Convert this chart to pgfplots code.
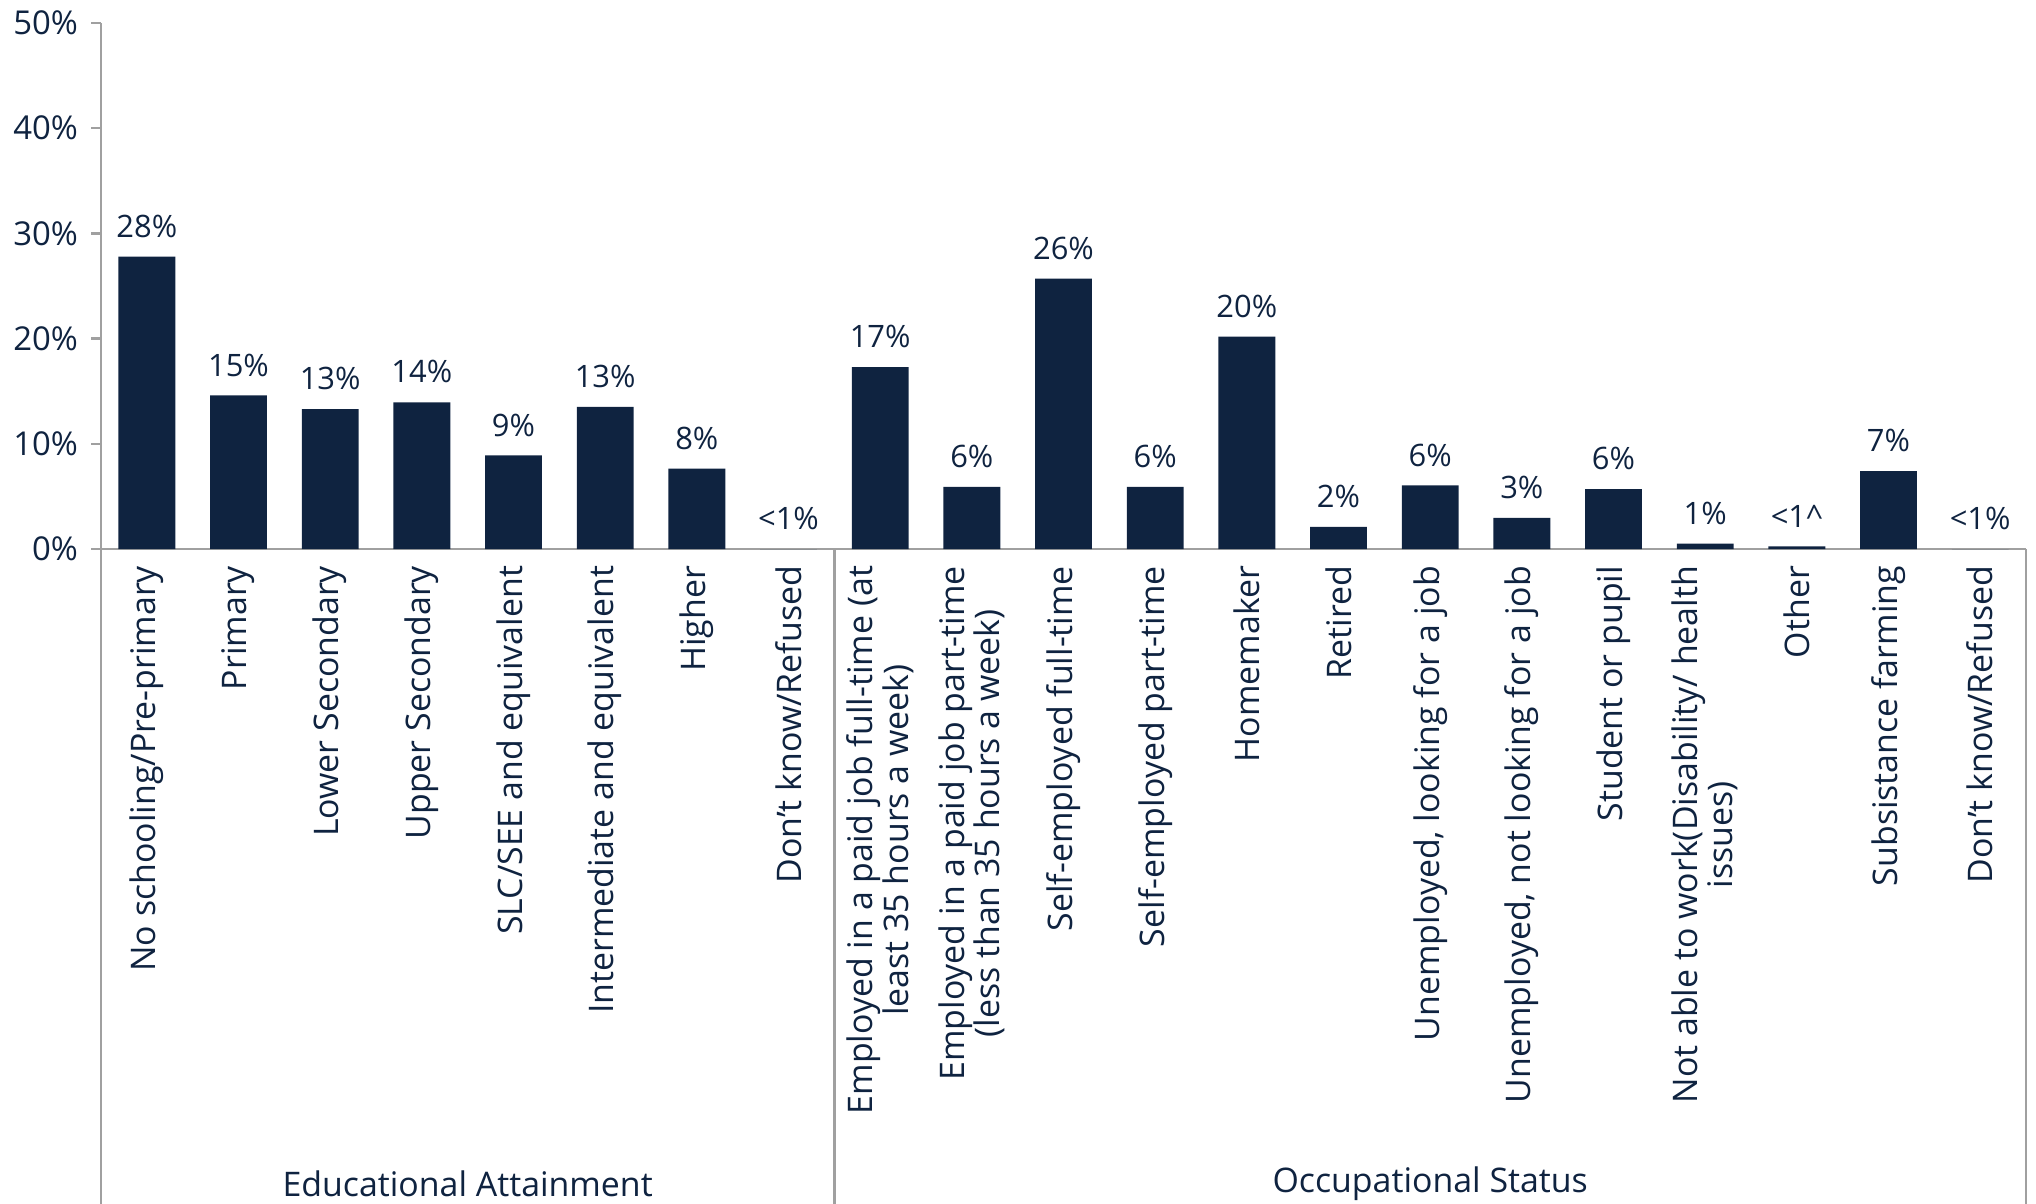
\documentclass[border=0pt]{standalone}
\usepackage{pgfplots}
\pgfplotsset{compat=1.18}
\usepackage{fontspec}
\setmainfont{Open Sans}
\definecolor{navy}{HTML}{0F2340}
\definecolor{axgray}{HTML}{A0A0A0}
\begin{document}
\begin{tikzpicture}
\useasboundingbox (-50.5bp,-327.5bp) rectangle (967.5bp,274.5bp);
\begin{axis}[
  at={(0,0)}, anchor=south west,
  scale only axis, width=962.5bp, height=263bp,
  xmin=-0.5, xmax=20.5, ymin=0, ymax=50,
  axis lines=left, axis line style={-, draw=axgray, line width=1.2bp},
  clip=false,
  ytick={0,10,20,30,40,50},
  yticklabels={0\%,10\%,20\%,30\%,40\%,50\%},
  tick align=outside, major tick length=5bp,
  ytick style={draw=axgray, line width=1.2bp},
  yticklabel style={font=\fontsize{16.5}{19}\selectfont, text=navy, xshift=-3bp},
  xtick={0,...,20},
  xtick style={draw=none},
  xticklabels={
    No schooling/Pre-primary,
    Primary,
    Lower Secondary,
    Upper Secondary,
    SLC/SEE and equivalent,
    Intermediate and equivalent,
    Higher,
    Don't know/Refused,
    {Employed in a paid job full-time (at\\least 35 hours a week)},
    {Employed in a paid job part-time\\(less than 35 hours a week)},
    Self-employed full-time,
    Self-employed part-time,
    Homemaker,
    Retired,
    {Unemployed, looking for a job},
    {Unemployed, not looking for a job},
    Student or pupil,
    {Not able to work(Disability/ health\\issues)},
    Other,
    Subsistance farming,
    Don't know/Refused},
  xticklabel style={rotate=90, anchor=east, align=center, text=navy,
    font=\fontsize{17}{16.5}\selectfont},
  ybar, bar width=0.62,
  nodes near coords,
  point meta=explicit symbolic,
  every node near coord/.append style={font=\fontsize{15.5}{18}\selectfont, text=navy, yshift=6bp},
]
\addplot[fill=navy, draw=none] coordinates {
  (0,27.8) [28\%]
  (1,14.6) [15\%]
  (2,13.3) [13\%]
  (3,13.95) [14\%]
  (4,8.9) [9\%]
  (5,13.5) [13\%]
  (6,7.65) [8\%]
  (7,0) [<1\%]
  (8,17.3) [17\%]
  (9,5.9) [6\%]
  (10,25.7) [26\%]
  (11,5.9) [6\%]
  (12,20.2) [20\%]
  (13,2.1) [2\%]
  (14,6.05) [6\%]
  (15,2.96) [3\%]
  (16,5.7) [6\%]
  (17,0.5) [1\%]
  (18,0.25) [<1\textasciicircum]
  (19,7.4) [7\%]
  (20,0) [<1\%]
};
\end{axis}
\draw[axgray, line width=1.2bp] (0bp,0bp) -- (0bp,-327.5bp);
\draw[axgray, line width=1.2bp] (366.67bp,0bp) -- (366.67bp,-327.5bp);
\draw[axgray, line width=1.2bp] (962.5bp,0bp) -- (962.5bp,-327.5bp);
\node[text=navy, font=\fontsize{17}{20}\selectfont] at (183.33bp,-317.5bp) {Educational Attainment};
\node[text=navy, font=\fontsize{17}{20}\selectfont] at (664.58bp,-317.5bp) {Occupational Status};
\end{tikzpicture}
\end{document}
